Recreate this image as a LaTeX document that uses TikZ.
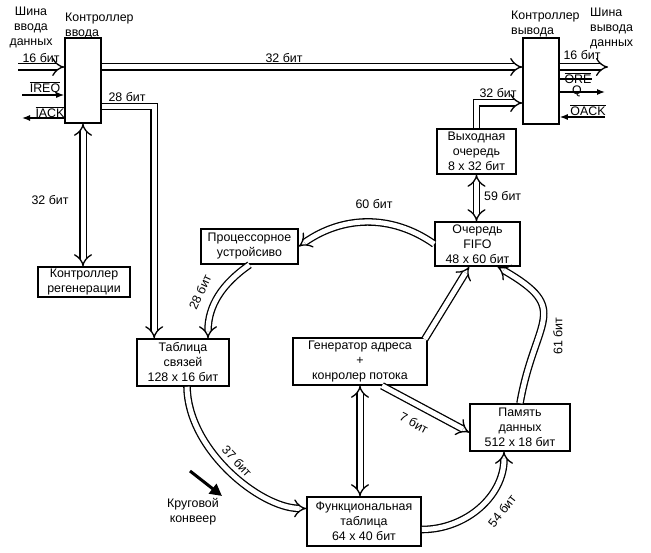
\documentclass[tikz,border=0pt]{standalone}
\usepackage{fontspec}
\setmainfont{Liberation Sans}
\usetikzlibrary{arrows.meta,calc}
\begin{document}
\begin{tikzpicture}[x=1pt,y=-1pt,
  every node/.style={font=\fontsize{12.4}{15}\selectfont, inner sep=0pt},
  box/.style={draw, line width=1.6pt, align=center},
  bus/.style={double=white, double distance=5pt, line width=1.3pt, -{Implies[scale=1.8]}},
  bbus/.style={double=white, double distance=5pt, line width=1.3pt, {Implies[scale=1.8]}-{Implies[scale=1.8]}},
  sig/.style={line width=1.3pt, -{Latex[length=8pt,width=6pt]}},
  plain/.style={line width=1.3pt}
]
\useasboundingbox (0,0) rectangle (651,553);

% boxes
\node[box, minimum width=36pt, minimum height=85pt] (inctrl) at (83,80.5) {};
\node[box, minimum width=36pt, minimum height=86pt] (outctrl) at (541,81) {};
\node[box, minimum width=92pt, minimum height=30pt] (regen) at (84,282) {Контроллер\\регенерации};
\node[box, minimum width=92pt, minimum height=47pt] (tab) at (183,362.5) {Таблица\\связей\\128 x 16 бит};
\node[box, minimum width=97pt, minimum height=35pt] (proc) at (249.5,246.5) {Процессорное\\устройсиво};
\node[box, minimum width=85pt, minimum height=44pt] (fifo) at (477.5,244) {Очередь\\FIFO\\48 x 60 бит};
\node[box, minimum width=79pt, minimum height=45pt] (outq) at (476.5,151.5) {Выходная\\очередь\\8 x 32 бит};
\node[box, minimum width=134pt, minimum height=47pt] (gen) at (360,361.5) {Генератор адреса\\+\\конролер потока};
\node[box, minimum width=100pt, minimum height=47pt] (pam) at (520,427.5) {Память\\данных\\512 x 18 бит};
\node[box, minimum width=114pt, minimum height=49pt] (func) at (364,521.5) {Функциональная\\таблица\\64 x 40 бит};

% titles
\node[align=center] (tinbus) at (31,27) {Шина\\ввода\\данных};
\node[align=left, anchor=west] (tinctrl) at (65,25.5) {Контроллер\\ввода};
\node[align=left, anchor=west] (toutctrl) at (511,24) {Контроллер\\вывода};
\node[align=left, anchor=west] (toutbus) at (590,28) {Шина\\вывода\\данных};

% input side
\coordinate (in16) at (18,67);
\draw[bus] (in16) -- (in16 -| inctrl.west);
\node (l16in) at (41,58) {16 бит};
\coordinate (ireq) at (22,95);
\draw[sig] (ireq) -- (ireq -| inctrl.west);
\node (lireq) at (45,88) {$\overline{\hbox{IREQ}}$};
\coordinate (iack) at (22,118);
\draw[sig] (iack -| inctrl.west) -- (iack);
\node (liack) at (50,112) {$\overline{\hbox{IACK}}$};

\draw[bus] (inctrl.east |- in16) -- (outctrl.west |- in16);
\node (l32top) at (284,58) {32 бит};

\draw[bus] ($(inctrl.east)+(0,26)$) -| ($(tab.north west)+(18,0)$);
\node (l28a) at (127,97) {28 бит};

\draw[bbus] (inctrl.south) -- (inctrl.south |- regen.north);
\node (l32v) at (50,200) {32 бит};

% output side
\coordinate (out16) at (608,67);
\draw[bus] (outctrl.east |- out16) -- (out16);
\node (l16out) at (582,55) {16 бит};
\coordinate (ore) at (592,79);
\draw[plain] (outctrl.east |- ore) -- (ore);
\node (lore) at (578,78) {$\overline{\hbox{ORE}}$};
\coordinate (q) at (605,92);
\draw[sig] (outctrl.east |- q) -- (q);
\node (lq) at (577,91) {Q};
\coordinate (oack) at (605,117);
\draw[sig] (oack) -- (oack -| outctrl.east);
\node (loack) at (588,110) {$\overline{\hbox{OACK}}$};

\draw[bus] (outq.north) |- ($(outctrl.west)+(0,22)$);
\node (l32out) at (498,93) {32 бит};

\draw[bbus] (outq.south) -- (outq.south |- fifo.north);
\node[anchor=west] (l59) at (484,196) {59 бит};

% ring
\draw[bus] (fifo.west) to[out=145,in=35] (proc.east);
\node (l60) at (374,204) {60 бит};

\draw[bus] (proc.south) to[out=215,in=90] ($(tab.north)+(25,0)$);
\node[rotate=65] (l28b) at (200,292) {28 бит};

\draw[bus] ($(tab.south)+(4,0)$) .. controls (188,450) and (260,508) .. ($(func.west)+(0,-13)$);
\node[rotate=-47] (l37) at (237,461) {37 бит};

\draw[bus] ($(func.east)+(0,8)$) to[out=0,in=270] ($(pam.south)+(-16,0)$);
\node[rotate=52] (l54) at (502,511) {54 бит};

\draw[bus] (pam.north) to[out=80,in=-30,looseness=1.6] ($(fifo.south)+(20,0)$);
\node[rotate=90] (l61) at (558,336) {61 бит};

\draw[bus] ($(gen.north east)+(-3,2)$) -- ($(fifo.south west)+(35,0)$);

\draw[bus] ($(gen.south)+(22,0)$) -- ($(pam.west)+(0,5)$);
\node[rotate=-28] (l7) at (414,423) {7 бит};

\draw[bbus] (gen.south) -- (gen.south |- func.north);

% conveyor
\coordinate (cv1) at (190,471);
\coordinate (cv2) at (222,496);
\draw[line width=3pt, -{Triangle[length=12pt,width=12pt]}] (cv1) -- (cv2);
\node[align=center] (lconv) at (193,512) {Круговой\\конвеер};
\end{tikzpicture}
\end{document}
